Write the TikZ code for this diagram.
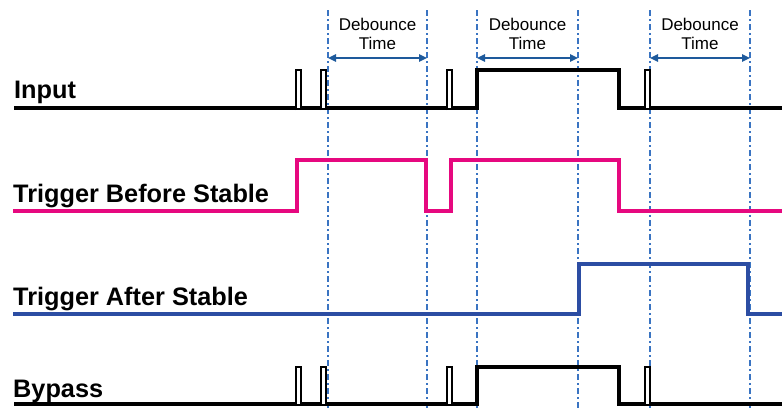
\documentclass[tikz,border=0pt]{standalone}
\usepackage{fontspec}
\setmainfont{Liberation Sans}
\usetikzlibrary{arrows.meta}
\definecolor{sigpink}{HTML}{E6087F}
\definecolor{sigblue}{HTML}{2C4DA3}
\definecolor{guide}{HTML}{3A74C2}
\definecolor{arrowblue}{HTML}{1E5A9C}
\tikzset{
  sig/.style={line width=4.3pt, line join=miter, miter limit=10},
  guideline/.style={guide, line width=1.5pt, dash pattern=on 6pt off 3pt on 2pt off 3pt},
  span/.style={arrowblue, line width=1.6pt, {Triangle[length=8pt,width=7.5pt]}-{Triangle[length=8pt,width=7.5pt]}},
  lbl/.style={font=\fontsize{25.3}{30}\selectfont\bfseries, anchor=base west, inner sep=0pt},
  dlbl/.style={font=\fontsize{17}{20}\selectfont, anchor=base, inner sep=0pt},
  glitchline/.style={black, line width=1.3pt},
}
\newcommand{\glitchpulse}[4]{%
  \fill[white] (#1,#4) rectangle (#2,#3);
  \draw[glitchline] (#1,#3+2) -- (#1,#4) -- (#2,#4) -- (#2,#3+2);
}
\begin{document}
\begin{tikzpicture}[x=1pt,y=-1pt]
\useasboundingbox (0,0) rectangle (782,408);
% guide lines
\foreach \gx/\gn in {328/g1,427/g2,477/g3,578/g4,650/g5,750/g6}{
  \coordinate (\gn t) at (\gx,10);
  \coordinate (\gn b) at (\gx,408);
  \coordinate (\gn a) at (\gx,58);
  \draw[guideline] (\gn t) -- (\gn b);
}
% debounce spans
\draw[span] (g1a) -- (g2a);
\draw[span] (g3a) -- (g4a);
\draw[span] (g5a) -- (g6a);
\node[dlbl] (d1) at (377.5,30) {Debounce};
\node[dlbl] (t1) at (377.5,49) {Time};
\node[dlbl] (d2) at (527.5,30) {Debounce};
\node[dlbl] (t2) at (527.5,49) {Time};
\node[dlbl] (d3) at (700,30) {Debounce};
\node[dlbl] (t3) at (700,49) {Time};
% labels
\node[lbl] (lin) at (14,98) {Input};
\node[lbl] (ltb) at (13,202) {Trigger Before Stable};
\node[lbl] (lta) at (13,305) {Trigger After Stable};
\node[lbl] (lby) at (13,397) {Bypass};
% Input
\draw[sig] (14,108) -- (477,108) -- (477,70) -- (619,70) -- (619,108) -- (782,108);
\glitchpulse{296}{301}{108}{70}
\glitchpulse{321}{326}{108}{70}
\glitchpulse{447}{452}{108}{70}
\glitchpulse{645}{650}{108}{70}
% Trigger Before Stable
\draw[sig, sigpink] (13,211) -- (297,211) -- (297,160) -- (426,160) -- (426,211) -- (451,211) -- (451,160) -- (619,160) -- (619,211) -- (782,211);
% Trigger After Stable
\draw[sig, sigblue] (13,314) -- (579,314) -- (579,264) -- (748,264) -- (748,314) -- (782,314);
% Bypass
\draw[sig] (14,404) -- (477,404) -- (477,367) -- (619,367) -- (619,404) -- (782,404);
\glitchpulse{296}{301}{404}{367}
\glitchpulse{321}{326}{404}{367}
\glitchpulse{447}{452}{404}{367}
\glitchpulse{645}{650}{404}{367}
\end{tikzpicture}
\end{document}
